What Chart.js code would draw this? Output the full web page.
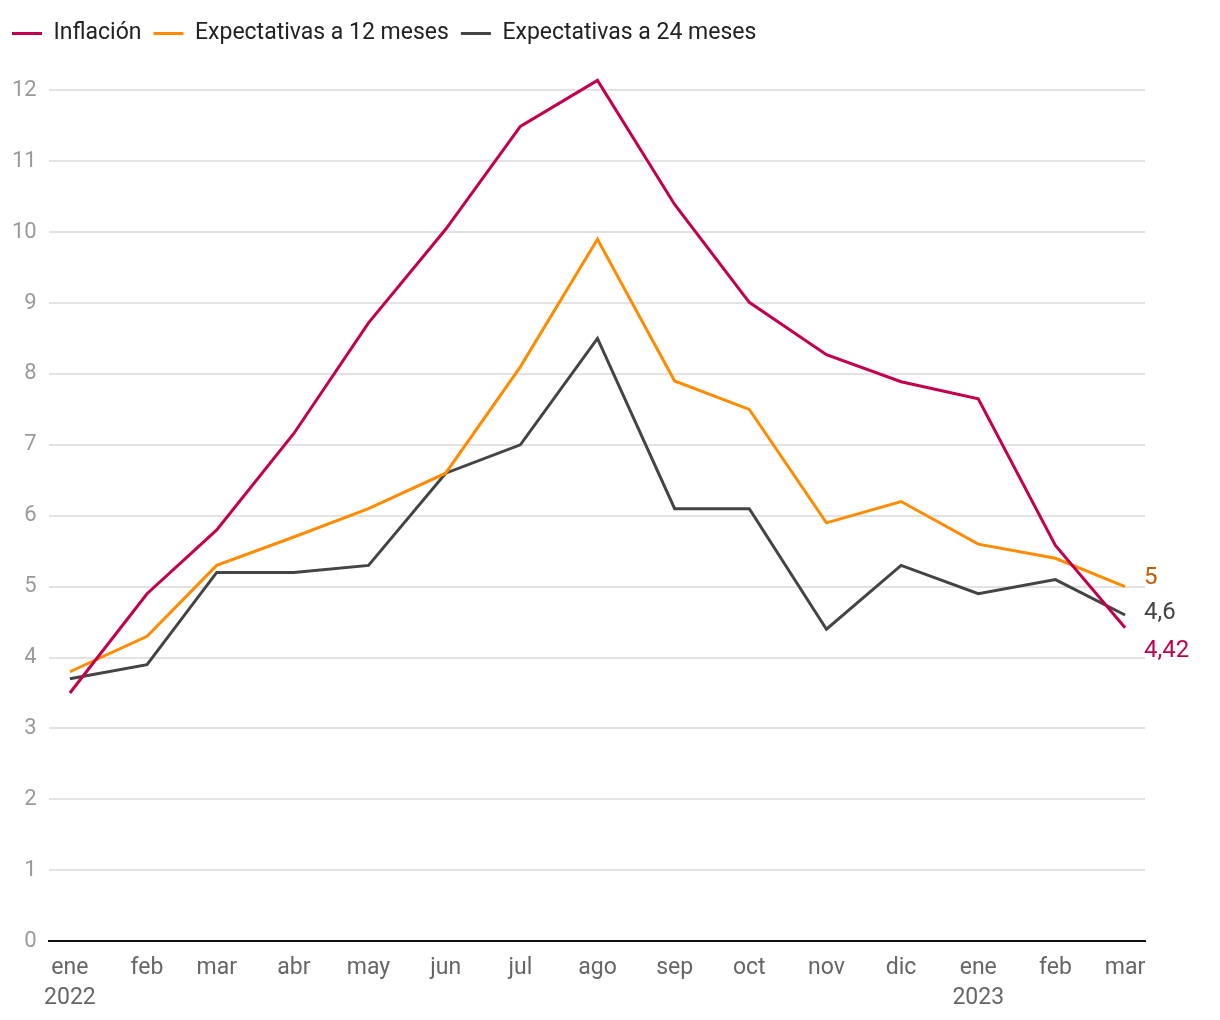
<!DOCTYPE html>
<html>
<head>
<meta charset="utf-8">
<script src="https://cdn.jsdelivr.net/npm/chart.js@4"></script>
<style>
  body { margin: 0; background: #fff; }
  #wrap { width: 1220px; height: 1020px; }
</style>
</head>
<body>
<div id="wrap"><canvas id="chart"></canvas></div>
<script>
const meses = ["ene", "feb", "mar", "abr", "may", "jun", "jul", "ago", "sep", "oct", "nov", "dic", "ene", "feb", "mar"];
const anios = [2022, 2022, 2022, 2022, 2022, 2022, 2022, 2022, 2022, 2022, 2022, 2022, 2023, 2023, 2023];

const inflacion = [3.5, 4.9, 5.8, 7.16, 8.72, 10.04, 11.49, 12.14, 10.39, 9.01, 8.27, 7.89, 7.65, 5.58, 4.42];
const expect12 = [3.8, 4.3, 5.3, 5.7, 6.1, 6.6, 8.1, 9.9, 7.9, 7.5, 5.9, 6.2, 5.6, 5.4, 5.0];
const expect24 = [3.7, 3.9, 5.2, 5.2, 5.3, 6.6, 7.0, 8.5, 6.1, 6.1, 4.4, 5.3, 4.9, 5.1, 4.6];

const yTicks = [0, 1, 2, 3, 4, 5, 6, 7, 8, 9, 10, 11, 12];

// days since 1 ene 2022, so months have real widths
const base = Date.UTC(2022, 0, 1);
const dias = meses.map((m, i) => (Date.UTC(anios[i], i % 12, 1) - base) / 86400000);

const tickLabel = (i) => (i === 0 || anios[i] !== anios[i - 1]) ? [meses[i], String(anios[i])] : meses[i];

const toPoints = (arr) => arr.map((v, i) => ({ x: dias[i], y: v }));

function serie(label, data, color, finalText, labelColor, dy) {
  return {
    label,
    data: toPoints(data),
    borderColor: color,
    backgroundColor: color,
    borderWidth: 3,
    pointRadius: 0,
    tension: 0,
    finalText,
    labelColor,
    dy,
  };
}

const finalLabels = {
  id: "finalLabels",
  afterDatasetsDraw(chart) {
    const ctx = chart.ctx;
    ctx.save();
    ctx.font = "24px Roboto";
    ctx.textBaseline = "middle";
    ctx.textAlign = "left";
    chart.data.datasets.forEach((ds, i) => {
      const pts = chart.getDatasetMeta(i).data;
      const p = pts[pts.length - 1];
      ctx.fillStyle = ds.labelColor;
      ctx.fillText(ds.finalText, p.x + 19, p.y + ds.dy);
    });
    ctx.restore();
  },
};

// extra room under the legend
const legendGap = {
  id: "legendGap",
  beforeInit(chart) {
    const fit = chart.legend.fit;
    chart.legend.fit = function () {
      fit.bind(chart.legend)();
      this.height += 14;
    };
  },
};

new Chart(document.querySelector("#chart"), {
  type: "line",
  data: {
    datasets: [
      serie("Inflación", inflacion, "#C4004E", "4,42", "#C4004E", 23),
      serie("Expectativas a 12 meses", expect12, "#FF8C00", "5", "#C06000", -9),
      serie("Expectativas a 24 meses", expect24, "#444444", "4,6", "#444444", -2),
    ],
  },
  options: {
    responsive: true,
    maintainAspectRatio: false,
    animation: false,
    layout: { padding: { left: 0, right: 75, top: 10, bottom: 3 } },
    plugins: {
      tooltip: { enabled: false },
      legend: {
        align: "start",
        labels: {
          boxWidth: 30,
          boxHeight: 3,
          padding: 12,
          color: "#222",
          font: { family: "Roboto", size: 23 },
          generateLabels: (chart) =>
            Chart.defaults.plugins.legend.labels.generateLabels(chart).map((l) => ({ ...l, lineWidth: 0 })),
        },
      },
    },
    scales: {
      x: {
        type: "linear",
        min: -8.5,
        max: 432,
        afterBuildTicks: (axis) => {
          axis.ticks = dias.map((d) => ({ value: d }));
        },
        ticks: {
          autoSkip: false,
          maxRotation: 0,
          padding: 4,
          color: "#666",
          font: { family: "Roboto", size: 23, lineHeight: 1.3 },
          callback: (v, i) => tickLabel(i),
        },
        grid: { display: false },
        border: { display: true, color: "#111", width: 2 },
      },
      y: {
        min: 0,
        max: 12.3,
        afterBuildTicks: (axis) => {
          axis.ticks = yTicks.map((v) => ({ value: v }));
        },
        ticks: {
          padding: 12,
          color: "#9a9a9a",
          font: { family: "Roboto", size: 22 },
        },
        grid: { color: "#e3e3e3", lineWidth: 2, drawTicks: false },
        border: { display: false },
      },
    },
  },
  plugins: [finalLabels, legendGap],
});
</script>
</body>
</html>
